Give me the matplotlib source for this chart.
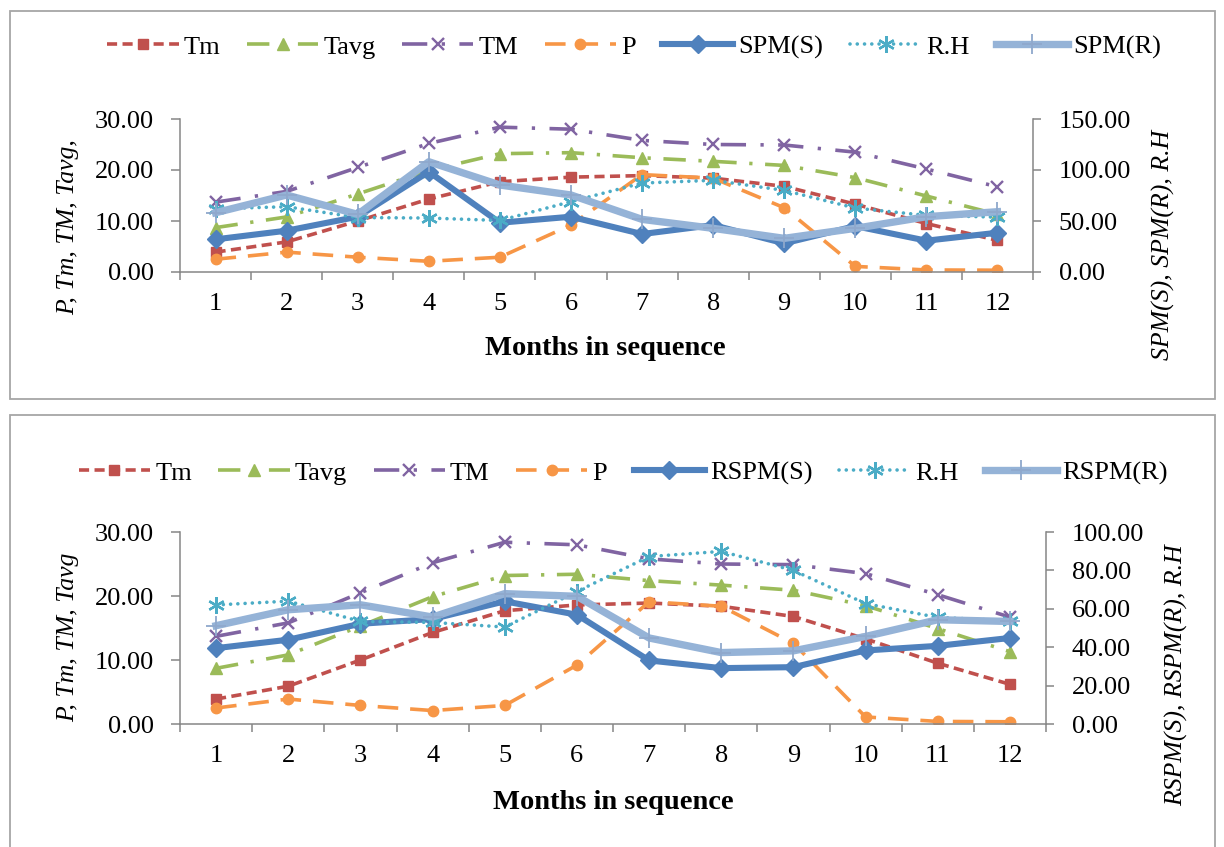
import numpy as np
import matplotlib
matplotlib.use("Agg")
import matplotlib.pyplot as plt
from matplotlib.ticker import FixedLocator, NullFormatter, FormatStrFormatter, FixedFormatter
from matplotlib.patches import Rectangle

plt.rcParams['font.family'] = ['Liberation Serif', 'DejaVu Serif']

# ---------------- data ----------------
months = list(range(1, 13))
month_labels = [str(m) for m in months]
tm = [3.9, 5.9, 10.0, 14.3, 17.7, 18.6, 18.9, 18.4, 16.8, 13.3, 9.5, 6.2]
tavg = [8.7, 10.8, 15.3, 19.9, 23.2, 23.4, 22.4, 21.7, 20.9, 18.5, 14.9, 11.3]
tmax = [13.7, 15.8, 20.5, 25.2, 28.4, 28.0, 25.8, 25.0, 24.9, 23.5, 20.2, 16.7]
p = [2.5, 3.9, 2.9, 2.1, 2.9, 9.2, 19.1, 18.4, 12.6, 1.1, 0.4, 0.35]
rh = [62.0, 64.0, 53.4, 52.9, 50.5, 69.0, 87.2, 89.9, 80.0, 62.7, 55.5, 53.8]
spm_s = [32.0, 40.5, 54.2, 98.3, 48.3, 54.2, 37.2, 46.0, 28.1, 45.0, 30.7, 38.5]
spm_r = [58.1, 75.5, 56.5, 108.1, 85.3, 75.5, 51.6, 42.8, 33.0, 42.8, 54.2, 59.1]
rspm_s = [39.5, 43.9, 52.2, 54.7, 63.9, 56.9, 33.1, 29.1, 29.6, 38.3, 40.7, 44.8]
rspm_r = [51.2, 59.5, 62.1, 55.7, 67.9, 66.5, 44.8, 37.2, 38.1, 45.6, 54.3, 53.4]

left_ticks = [0, 10, 20, 30]
top_right_ticks = [0, 50, 100, 150]
bot_right_ticks = [0, 20, 40, 60, 80, 100]

# ---------------- styles ----------------
C_TM = '#C0504D'
C_TAVG = '#9BBB59'
C_TMAX = '#8064A2'
C_P = '#F79646'
C_S = '#4F81BD'
C_RH = '#4BACC6'
C_R = '#95B3D7'
GRAY = '#868686'
FS = 19
LW = 2.6

W, H = 1224, 847
fig = plt.figure(figsize=(W / 100, H / 100), dpi=100)


def fx(px):
    return px / W


def fy(py):
    return 1 - py / H


def draw_panel(rect, right_data_s, right_data_r, labels_right, right_ticks, right_max):
    ax = fig.add_axes(rect)
    ax2 = ax.twinx()
    l1, = ax.plot(months, tm, color=C_TM, lw=LW, linestyle=(0, (2.8, 1.5)),
                  marker='s', ms=7, mfc=C_TM, mec=C_TM, label='Tm')
    l2, = ax.plot(months, tavg, color=C_TAVG, lw=LW, linestyle=(0, (6.2, 3.5, 0.9, 3.5)),
                  marker='^', ms=8.5, mfc=C_TAVG, mec=C_TAVG, label='Tavg')
    l3, = ax.plot(months, tmax, color=C_TMAX, lw=LW, linestyle=(0, (7, 4, 0.9, 4)),
                  marker='x', ms=8, mew=1.7, mec=C_TMAX, label='TM')
    l4, = ax.plot(months, p, color=C_P, lw=LW, linestyle=(0, (5.7, 3.3)),
                  marker='o', ms=7.5, mfc=C_P, mec=C_P, label='P')
    l5, = ax2.plot(months, right_data_s, color=C_S, lw=4.4, solid_joinstyle='round',
                   marker='D', ms=9, mfc=C_S, mec=C_S, label=labels_right[0])
    l6, = ax2.plot(months, rh, color=C_RH, lw=2.6, linestyle=(0, (0.01, 2.0)),
                   dash_capstyle='round', marker=(6, 2, 0), ms=12, mew=1.7,
                   mec=C_RH, label='R.H')
    l7, = ax2.plot(months, right_data_r, color=C_R, lw=5.3, solid_joinstyle='round',
                   marker='+', ms=14, mew=1.3, mec='#8FA8CC', label=labels_right[1])

    ax.set_xlim(0.5, 12.5)
    ax.set_ylim(0, 30)
    ax.yaxis.set_major_locator(FixedLocator(left_ticks))
    ax.yaxis.set_major_formatter(FormatStrFormatter('%.2f'))
    ax2.set_ylim(0, right_max)
    ax2.yaxis.set_major_locator(FixedLocator(right_ticks))
    ax2.yaxis.set_major_formatter(FormatStrFormatter('%.2f'))

    ax.xaxis.set_major_locator(FixedLocator(np.arange(0.5, 13.0, 1.0)))
    ax.xaxis.set_major_formatter(NullFormatter())
    ax.xaxis.set_minor_locator(FixedLocator(months))
    ax.xaxis.set_minor_formatter(FixedFormatter(month_labels))
    ax.tick_params(axis='x', which='major', length=5.5, width=1.1, color=GRAY, direction='out')
    ax.tick_params(axis='x', which='minor', length=0, pad=15, labelsize=FS)
    ax.tick_params(axis='y', which='major', length=6.5, width=1.1, color=GRAY,
                   direction='out', pad=12, labelsize=FS)
    ax2.tick_params(axis='y', which='major', length=5.5, width=1.1, color=GRAY,
                    direction='out', pad=13, labelsize=FS)

    for s in ['top', 'right']:
        ax.spines[s].set_visible(False)
    for s in ['top', 'left', 'bottom']:
        ax2.spines[s].set_visible(False)
    for a, s in [(ax, 'left'), (ax, 'bottom'), (ax2, 'right')]:
        a.spines[s].set_color(GRAY)
        a.spines[s].set_linewidth(1.1)
    return ax, ax2, [l1, l2, l3, l4, l5, l6, l7]


# ---------------- panel borders ----------------
fig.patches.append(Rectangle((fx(10), fy(399)), fx(1215) - fx(10), fy(11) - fy(399),
                             transform=fig.transFigure, fill=False, ec='#A6A6A6', lw=1.3))
fig.patches.append(Rectangle((fx(10), fy(870)), fx(1215) - fx(10), fy(415) - fy(870),
                             transform=fig.transFigure, fill=False, ec='#A6A6A6', lw=1.3,
                             clip_on=False))

# ---------------- top panel ----------------
rect1 = [fx(180), fy(272), fx(1033) - fx(180), fy(119) - fy(272)]
ax_a, ax_a2, h1 = draw_panel(rect1, spm_s, spm_r, ['SPM(S)', 'SPM(R)'], top_right_ticks, 150)
fig.legend(h1, [h.get_label() for h in h1], loc='center',
           bbox_to_anchor=(fx(634), fy(47)), ncol=7, frameon=False, fontsize=FS,
           handlelength=2.7, handletextpad=0.2, columnspacing=1.0, borderaxespad=0,
           numpoints=1)
fig.text(fx(68), fy(227), 'P, Tm, TM, Tavg,', rotation=90, style='italic',
         ha='center', va='center', fontsize=18.5)
fig.text(fx(1163), fy(245), 'SPM(S), SPM(R), R.H', rotation=90, style='italic',
         ha='center', va='center', fontsize=18.5)
fig.text(fx(605), fy(348), 'Months in sequence', fontweight='bold',
         ha='center', va='center', fontsize=20.5)

# ---------------- bottom panel ----------------
rect2 = [fx(180), fy(724), fx(1046) - fx(180), fy(532) - fy(724)]
ax_b, ax_b2, h2 = draw_panel(rect2, rspm_s, rspm_r, ['RSPM(S)', 'RSPM(R)'], bot_right_ticks, 100)
fig.legend(h2, [h.get_label() for h in h2], loc='center',
           bbox_to_anchor=(fx(623), fy(473)), ncol=7, frameon=False, fontsize=FS,
           handlelength=2.7, handletextpad=0.2, columnspacing=1.0, borderaxespad=0,
           numpoints=1)
fig.text(fx(68), fy(637), 'P, Tm, TM, Tavg', rotation=90, style='italic',
         ha='center', va='center', fontsize=18.5)
fig.text(fx(1177), fy(675), 'RSPM(S), RSPM(R), R.H', rotation=90, style='italic',
         ha='center', va='center', fontsize=18.5)
fig.text(fx(613), fy(802), 'Months in sequence', fontweight='bold',
         ha='center', va='center', fontsize=20.5)

fig.savefig('out.png', dpi=100, facecolor='white')
